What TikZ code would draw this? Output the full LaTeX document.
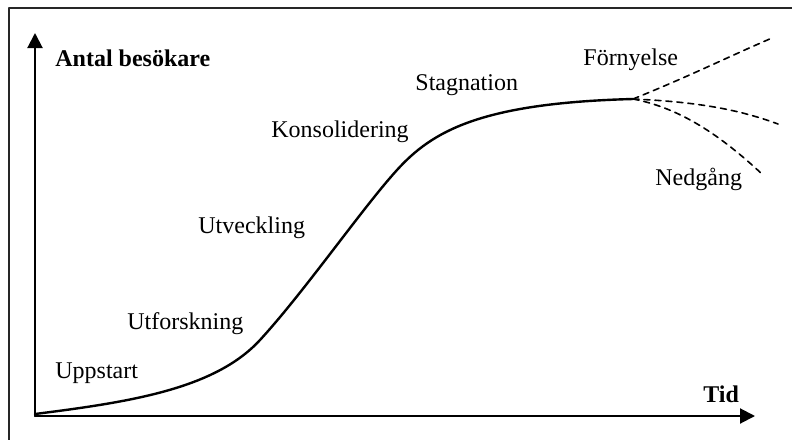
\documentclass[tikz,border=0pt]{standalone}
\usepackage{fontspec}
\setmainfont{Liberation Serif}
\usetikzlibrary{arrows.meta}
\begin{document}
\begin{tikzpicture}[x=0.5pt, y=-0.5pt, font=\fontsize{12}{14}\selectfont, line join=round, line cap=round, >={Triangle[length=7.5pt,width=7.5pt]},
  fas/.style={anchor=base west, inner sep=0pt},
  gren/.style={dashed, dash pattern=on 3pt off 2.5pt, line width=0.8pt}]
\def\xmin{35} \def\xmax{755}
\def\ymin{416} \def\ymax{33}
\useasboundingbox (0,0) rectangle (792,439);
\draw[line width=1pt, black!85] (9,8) rectangle (805,455);
% axlar
\coordinate (O) at (\xmin,\ymin);
\coordinate (Y) at (\xmin,\ymax);
\coordinate (X) at (\xmax,\ymin);
\draw[->, line width=1pt] (O)--(Y);
\draw[->, line width=1pt] (O)--(X);
\node[fas, font=\fontsize{12}{14}\selectfont\bfseries] (besok) at (55,66) {Antal besökare};
\node[fas, font=\fontsize{12}{14}\selectfont\bfseries] (tid) at (703,402) {Tid};
% livscykelkurvan
\coordinate (S) at (35,414);
\coordinate (A) at (260,340);
\coordinate (B) at (397,170);
\coordinate (F) at (633,99);
\draw[line width=1.2pt] (S) .. controls (130,402) and (215,389) .. (A)
  .. controls (305,291) and (362,208.5) .. (B)
  .. controls (432,131.5) and (480,103) .. (F);
\coordinate (F1) at (772,38);
\coordinate (F2) at (778,124);
\coordinate (F3) at (762,174);
\draw[gren] (F) .. controls (690,76) and (730,56) .. (F1);
\draw[gren] (F) .. controls (700,102) and (740,110) .. (F2);
\draw[gren] (F) .. controls (680,108) and (720,135) .. (F3);
% faser
\node[fas] (upp) at (55,378) {Uppstart};
\node[fas] (utf) at (127,329) {Utforskning};
\node[fas] (utv) at (198,233) {Utveckling};
\node[fas] (kon) at (271,137) {Konsolidering};
\node[fas] (sta) at (415,90) {Stagnation};
\node[fas] (forn) at (583,65) {Förnyelse};
\node[fas] (ned) at (655,185) {Nedgång};
\end{tikzpicture}
\end{document}
